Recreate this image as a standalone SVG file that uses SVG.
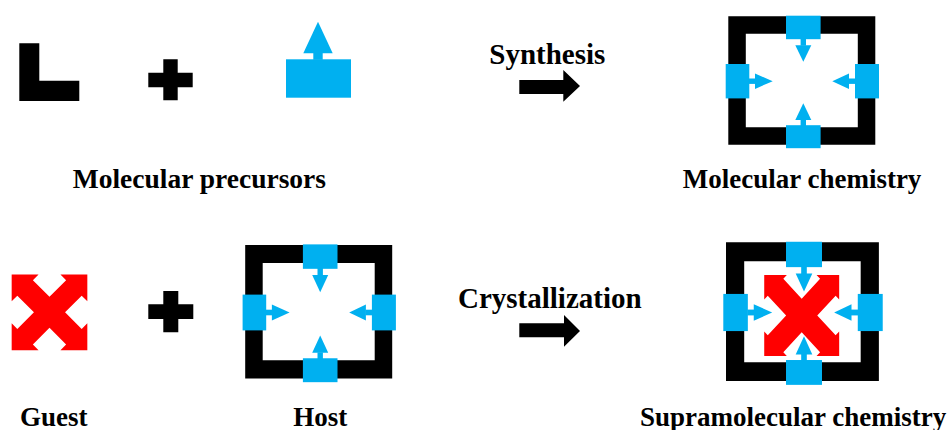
<svg xmlns="http://www.w3.org/2000/svg" xmlns:xlink="http://www.w3.org/1999/xlink" width="951" height="430" viewBox="0 0 951 430">
<style>
.lbl{font-family:"Liberation Serif","Times New Roman",serif;font-weight:bold;font-size:27px;fill:#000}
.big{font-size:29px}
.blk{fill:#000}
.blu{fill:#00B0F0}
.red{fill:#FF0000}
</style>
<defs>
<g id="ring">
<path class="blk" fill-rule="evenodd" d="M-75,-65H72V63.5H-75Z M-57.5,-47.5V46H54.5V-47.5Z"/>
<rect class="blu" x="-17.3" y="-65.5" width="34.6" height="23.5"/>
<rect class="blu" x="-2.7" y="-43" width="5.4" height="7.5"/>
<polygon class="blu" points="-8,-36 8,-36 0,-19.5"/>
<rect class="blu" x="-17.3" y="44" width="34.6" height="23"/>
<rect class="blu" x="-2.7" y="38.3" width="5.4" height="6.5"/>
<polygon class="blu" points="-8,38.8 8,38.8 0,22"/>
<rect class="blu" x="-77.6" y="-17.2" width="23.6" height="34.4"/>
<rect class="blu" x="-54.5" y="-2.7" width="6.7" height="5.4"/>
<polygon class="blu" points="-48.3,-7.7 -48.3,7.7 -30.6,0"/>
<rect class="blu" x="51.7" y="-17.2" width="24" height="34.4"/>
<rect class="blu" x="45.2" y="-2.7" width="7" height="5.4"/>
<polygon class="blu" points="45.7,-7.7 45.7,7.7 29,0"/>
</g>
<polygon id="cross" class="red" transform="rotate(45)" points="11,-11 34.5,-11 34.5,-19 53.5,0 34.5,19 34.5,11 11,11 11,34.5 19,34.5 0,53.5 -19,34.5 -11,34.5 -11,11 -34.5,11 -34.5,19 -53.5,0 -34.5,-19 -34.5,-11 -11,-11 -11,-34.5 -19,-34.5 0,-53.5 19,-34.5 11,-34.5"/>
<polygon id="cross2" class="red" transform="rotate(45)" points="11,-11 37,-11 37,-16 53,0 37,16 37,11 11,11 11,37 16,37 0,53 -16,37 -11,37 -11,11 -37,11 -37,16 -53,0 -37,-16 -37,-11 -11,-11 -11,-37 -16,-37 0,-53 16,-37 11,-37"/>
</defs>

<g id="precursor-L">
<path class="blk" d="M19.3,43.3H39.3V80.7H79.3V101H19.3Z"/>
</g>
<g id="plus-1">
<path class="blk" d="M163.3,59.3H177.7V72.7H192.7V87.3H177.7V100.3H163.3V87.3H148.3V72.7H163.3Z"/>
</g>
<g id="precursor-blue">
<rect class="blu" x="286" y="59.3" width="65" height="38.4"/>
<rect class="blu" x="313.3" y="52.8" width="9.4" height="7"/>
<polygon class="blu" points="303.3,53.3 332.7,53.3 318,21.7"/>
</g>
<g id="molecular-chemistry">
<use xlink:href="#ring" transform="translate(803.3,81.2)"/>
</g>

<g id="guest">
<use xlink:href="#cross" transform="translate(49.5,312.3)"/>
</g>
<g id="plus-2">
<path class="blk" d="M163.3,291H178.3V304.3H193.3V319H178.3V332.3H163.3V319H148.3V304.3H163.3Z"/>
</g>
<g id="host">
<use xlink:href="#ring" transform="translate(320.2,312.5) scale(1,1.04)"/>
</g>
<g id="supramolecular-chemistry">
<use xlink:href="#cross2" transform="translate(801.7,315.5) scale(1,1.08)"/>
<use xlink:href="#ring" transform="translate(804,312.5) scale(1.04,1.08)"/>
</g>

<g id="connectors">
<polygon class="blk" points="519.3,80 563.3,80 563.3,70 580,86 563.3,101.7 563.3,94 519.3,94"/>
<polygon class="blk" points="519.3,323.3 564,323.3 564,315 580,331 564,346.7 564,337.3 519.3,337.3"/>
</g>

<g id="labels">
<text class="lbl big" x="489.3" y="64.3">Synthesis</text>
<text class="lbl big" x="458" y="308.3">Crystallization</text>
<text class="lbl" x="72.7" y="187.7" style="font-size:27.5px">Molecular precursors</text>
<text class="lbl" x="682.7" y="187.7">Molecular chemistry</text>
<text class="lbl" x="20" y="425.7">Guest</text>
<text class="lbl" x="293.3" y="425.7">Host</text>
<text class="lbl" x="640" y="425.7">Supramolecular chemistry</text>
</g>
</svg>
